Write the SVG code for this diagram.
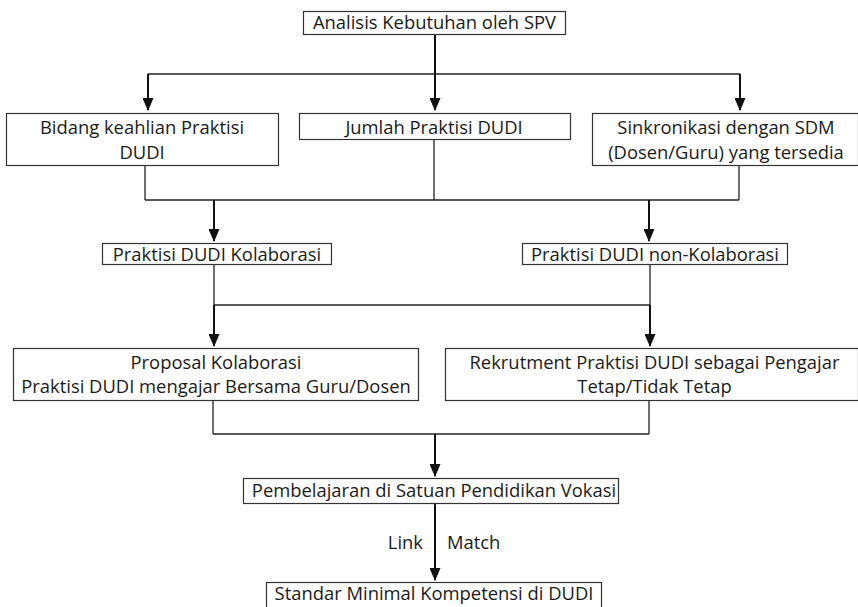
<svg xmlns="http://www.w3.org/2000/svg" width="858" height="607" viewBox="0 0 858 607">
<defs>
<style>
.box{fill:#fff;stroke:#333;stroke-width:1.2}
.t{font-family:"Open Sans","Noto Sans",sans-serif;font-size:18.4px;fill:#1a1a1a;text-anchor:middle}
.c{fill:none;stroke:#222;stroke-width:1.3}
.a{fill:none;stroke:#111;stroke-width:2;marker-end:url(#ah)}
</style>
<marker id="ah" markerUnits="userSpaceOnUse" markerWidth="13" markerHeight="11" viewBox="0 0 13 11" refX="12" refY="5.5" orient="auto">
<path d="M0,0 L13,5.5 L0,11 Z" fill="#111"/>
</marker>
</defs>
<rect width="858" height="607" fill="#fff"/>
<g id="connectors">
<line class="a" x1="435" y1="34" x2="435" y2="110"/>
<line class="c" x1="148" y1="74" x2="740" y2="74"/>
<line class="a" x1="148" y1="74" x2="148" y2="110"/>
<line class="a" x1="740" y1="74" x2="740" y2="110"/>
<line class="c" x1="145" y1="165" x2="145" y2="200"/>
<line class="c" x1="434" y1="139" x2="434" y2="200"/>
<line class="c" x1="739" y1="165" x2="739" y2="200"/>
<line class="c" x1="145" y1="200" x2="739" y2="200"/>
<line class="a" x1="214" y1="200" x2="214" y2="241"/>
<line class="a" x1="649" y1="200" x2="649" y2="241"/>
<line class="c" x1="214" y1="265" x2="214" y2="305"/>
<line class="c" x1="650" y1="265" x2="650" y2="305"/>
<line class="c" x1="214" y1="305" x2="650" y2="305"/>
<line class="a" x1="214" y1="305" x2="214" y2="346"/>
<line class="a" x1="650" y1="305" x2="650" y2="346"/>
<line class="c" x1="213" y1="400" x2="213" y2="434"/>
<line class="c" x1="649" y1="400" x2="649" y2="434"/>
<line class="c" x1="213" y1="434" x2="649" y2="434"/>
<line class="a" x1="435" y1="434" x2="435" y2="476"/>
<line class="a" x1="435" y1="503" x2="435" y2="580"/>
<text class="t" x="423" y="549" style="text-anchor:end">Link</text>
<text class="t" x="447" y="549" style="text-anchor:start">Match</text>
</g>
<g id="n-analisis">
<rect class="box" x="303.5" y="11.5" width="262" height="23"/>
<text class="t" x="434.5" y="29">Analisis Kebutuhan oleh SPV</text>
</g>
<g id="n-bidang">
<rect class="box" x="6.5" y="113.5" width="272" height="52"/>
<text class="t" x="142" y="134">Bidang keahlian Praktisi</text>
<text class="t" x="142" y="159">DUDI</text>
</g>
<g id="n-jumlah">
<rect class="box" x="299.5" y="113.5" width="271" height="26"/>
<text class="t" x="434" y="134">Jumlah Praktisi DUDI</text>
</g>
<g id="n-sinkron">
<rect class="box" x="592.5" y="113.5" width="266" height="52"/>
<text class="t" x="726" y="134">Sinkronikasi dengan SDM</text>
<text class="t" x="726" y="159">(Dosen/Guru) yang tersedia</text>
</g>
<g id="n-kolab">
<rect class="box" x="102.5" y="243.5" width="229" height="21"/>
<text class="t" x="217" y="261">Praktisi DUDI Kolaborasi</text>
</g>
<g id="n-nonkolab">
<rect class="box" x="522.5" y="243.5" width="265" height="21"/>
<text class="t" x="655" y="261">Praktisi DUDI non-Kolaborasi</text>
</g>
<g id="n-proposal">
<rect class="box" x="13.5" y="348.5" width="405" height="52"/>
<text class="t" x="216" y="369">Proposal Kolaborasi</text>
<text class="t" x="216" y="393">Praktisi DUDI mengajar Bersama Guru/Dosen</text>
</g>
<g id="n-rekrut">
<rect class="box" x="445.5" y="348.5" width="413" height="52"/>
<text class="t" x="654.5" y="369">Rekrutment Praktisi DUDI sebagai Pengajar</text>
<text class="t" x="654.5" y="393">Tetap/Tidak Tetap</text>
</g>
<g id="n-pembelajaran">
<rect class="box" x="243.5" y="478.5" width="375" height="25"/>
<text class="t" x="434" y="497">Pembelajaran di Satuan Pendidikan Vokasi</text>
</g>
<g id="n-standar">
<rect class="box" x="266.5" y="582.5" width="335" height="30"/>
<text class="t" x="434" y="600">Standar Minimal Kompetensi di DUDI</text>
</g>
</svg>
